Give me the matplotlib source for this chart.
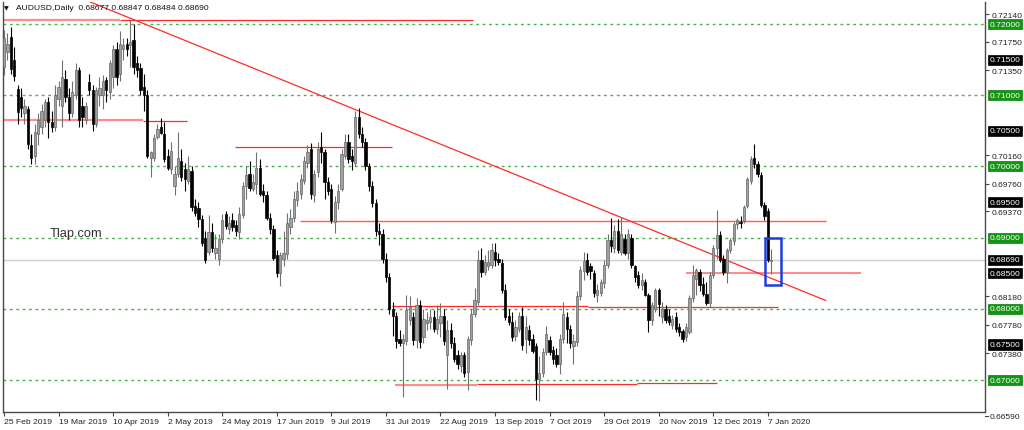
import matplotlib
matplotlib.use('Agg')
import matplotlib.pyplot as plt
import numpy as np
import pandas as pd
from matplotlib.transforms import blended_transform_factory, offset_copy
from matplotlib.patches import Rectangle

plt.rcParams['font.family'] = ['Liberation Sans', 'DejaVu Sans']

# ---------------- data (AUDUSD daily) ----------------
opens = [
    .7140,.7160,.7182,.7150,.7109,.7098,.7075,.7080,.7030,.7015,
    .7045,.7055,.7065,.7090,.7062,.7056,.7095,.7085,.7123,.7098,
    .7075,.7100,.7135,.7085,.7065,.7118,.7108,.7060,.7100,.7100,
    .7122,.7105,.7125,.7165,.7130,.7165,.7172,.7170,.7178,.7145,
    .7138,.7112,.7100,.7012,.7012,.7042,.7055,.7046,.7015,.6997,
    .6972,.6990,.7008,.6996,.6980,.6993,.6945,.6942,.6926,.6900,
    .6880,.6908,.6878,.6870,.6898,.6933,.6912,.6925,.6918,.6908,
    .6932,.6972,.6990,.6968,.6975,.6998,.6965,.6960,.6928,.6912,
    .6875,.6850,.6870,.6877,.6915,.6928,.6953,.6962,.6980,.7005,
    .7025,.6960,.6992,.7027,.7020,.6978,.6968,.6922,.6950,.6968,
    .7015,.7035,.7015,.7005,.7070,.7045,.7035,.7000,.6972,.6948,
    .6910,.6905,.6870,.6845,.6800,.6790,.6758,.6752,.6755,.6785,
    .6789,.6756,.6805,.6760,.6780,.6782,.6789,.6772,.6780,.6790,
    .6735,.6770,.6752,.6735,.6720,.6735,.6712,.6757,.6793,.6810,
    .6868,.6852,.6860,.6862,.6880,.6870,.6865,.6826,.6790,.6782,
    .6762,.6772,.6790,.6758,.6770,.6758,.6748,.6702,.6710,.6740,
    .6757,.6742,.6735,.6722,.6758,.6789,.6772,.6748,.6753,.6818,
    .6853,.6868,.6860,.6850,.6820,.6822,.6836,.6862,.6897,.6885,
    .6910,.6880,.6898,.6878,.6900,.6860,.6847,.6833,.6838,.6820,
    .6784,.6800,.6826,.6788,.6800,.6790,.6778,.6788,.6774,.6769,
    .6760,.6768,.6816,.6842,.6852,.6835,.6821,.6808,.6847,.6886,
    .6904,.6870,.6852,.6882,.6896,.6919,.6922,.6924,.6945,.6980,
    .7012,.7003,.6988,.6946,.6938,.68677]
highs = [
    .7192,.7188,.7196,.7168,.7115,.7110,.7095,.7085,.7045,.7060,
    .7075,.7088,.7095,.7098,.7078,.7115,.7120,.7150,.7135,.7110,
    .7120,.7145,.7140,.7098,.7090,.7130,.7115,.7112,.7125,.7128,
    .7125,.7150,.7170,.7175,.7190,.7180,.7180,.7206,.7200,.7155,
    .7145,.7130,.7108,.7022,.7045,.7060,.7068,.7062,.7025,.7035,
    .7000,.7048,.7025,.7005,.7015,.7000,.6955,.6950,.6932,.6910,
    .6932,.6920,.6905,.6905,.6933,.6938,.6930,.6935,.6925,.6943,
    .6978,.7000,.7008,.6990,.7020,.7010,.6975,.6965,.6935,.6918,
    .6882,.6880,.6910,.6935,.6940,.6965,.6978,.6990,.7015,.7030,
    .7033,.6995,.7035,.7048,.7025,.6985,.6975,.6958,.6975,.7025,
    .7045,.7045,.7025,.7078,.7082,.7055,.7040,.7005,.6980,.6955,
    .6920,.6912,.6878,.6850,.6810,.6795,.6770,.6765,.6820,.6818,
    .6795,.6815,.6812,.6800,.6795,.6800,.6798,.6805,.6808,.6800,
    .6785,.6780,.6760,.6742,.6740,.6740,.6762,.6800,.6830,.6882,
    .6885,.6875,.6882,.6892,.6893,.6878,.6870,.6835,.6800,.6795,
    .6785,.6795,.6802,.6790,.6778,.6765,.6752,.6734,.6745,.6776,
    .6762,.6748,.6745,.6765,.6810,.6795,.6778,.6765,.6825,.6860,
    .6880,.6878,.6865,.6855,.6835,.6842,.6868,.6905,.6928,.6918,
    .6926,.6929,.6905,.6912,.6905,.6862,.6853,.6850,.6842,.6823,
    .6810,.6830,.6830,.6810,.6805,.6800,.6792,.6795,.6780,.6772,
    .6780,.6820,.6861,.6858,.6856,.6845,.6838,.6852,.6890,.6939,
    .6910,.6876,.6886,.6900,.6922,.6927,.6930,.6946,.6985,.7015,
    .7031,.7008,.6992,.6950,.6942,.68847]
lows = [
    .7128,.7150,.7130,.7120,.7060,.7070,.7060,.7025,.7003,.7003,
    .7030,.7045,.7055,.7040,.7048,.7050,.7085,.7055,.7090,.7065,
    .7070,.7095,.7055,.7055,.7060,.7100,.7050,.7055,.7085,.7080,
    .7090,.7095,.7110,.7115,.7120,.7150,.7155,.7140,.7130,.7125,
    .7100,.7078,.7012,.6985,.7008,.7038,.7045,.7006,.6995,.6990,
    .6960,.6985,.6980,.6965,.6975,.6938,.6930,.6915,.6888,.6865,
    .6875,.6880,.6870,.6862,.6893,.6912,.6905,.6910,.6903,.6898,
    .6928,.6955,.6965,.6965,.6962,.6958,.6950,.6925,.6905,.6868,
    .6845,.6832,.6860,.6870,.6905,.6922,.6945,.6955,.6975,.6998,
    .6955,.6950,.6985,.7005,.6955,.6960,.6920,.6907,.6940,.6965,
    .7010,.7005,.6995,.7000,.7040,.7028,.6995,.6965,.6943,.6902,
    .6890,.6865,.6838,.6793,.6762,.6745,.6748,.6677,.6750,.6778,
    .6750,.6745,.6745,.6752,.6770,.6772,.6768,.6765,.6760,.6750,
    .6688,.6745,.6725,.6715,.6712,.6705,.6686,.6750,.6788,.6805,
    .6845,.6848,.6855,.6858,.6860,.6862,.6822,.6785,.6778,.6755,
    .6755,.6768,.6742,.6738,.6750,.6738,.6672,.6671,.6705,.6735,
    .6735,.6722,.6718,.6708,.6752,.6752,.6745,.6722,.6748,.6812,
    .6840,.6848,.6842,.6817,.6810,.6818,.6830,.6858,.6880,.6878,
    .6878,.6875,.6875,.6870,.6858,.6838,.6830,.6826,.6818,.6768,
    .6778,.6795,.6790,.6780,.6780,.6778,.6772,.6768,.6762,.6754,
    .6755,.6765,.6810,.6820,.6825,.6818,.6805,.6803,.6843,.6870,
    .6866,.6848,.6837,.6878,.6890,.6912,.6914,.6920,.6942,.6975,
    .6998,.6985,.6943,.6925,.6866,.68484]
closes = [
    .7180,.7172,.7137,.7127,.7076,.7082,.7085,.7032,.7012,.7048,
    .7065,.7078,.7090,.7062,.7056,.7100,.7112,.7125,.7098,.7075,
    .7105,.7135,.7065,.7070,.7085,.7108,.7060,.7108,.7110,.7120,
    .7108,.7145,.7165,.7125,.7172,.7170,.7165,.7175,.7140,.7135,
    .7108,.7100,.7015,.7020,.7040,.7052,.7047,.7010,.6998,.7022,
    .6990,.7012,.6985,.6983,.6997,.6943,.6935,.6926,.6892,.6868,
    .6908,.6885,.6886,.6898,.6925,.6917,.6920,.6915,.6910,.6933,
    .6973,.6988,.6970,.6978,.6998,.6962,.6960,.6928,.6912,.6872,
    .6850,.6875,.6878,.6920,.6928,.6955,.6966,.6982,.7008,.7020,
    .6962,.6990,.7025,.7020,.6978,.6965,.6925,.6950,.6965,.7018,
    .7035,.7010,.7008,.7070,.7045,.7035,.7000,.6972,.6948,.6910,
    .6905,.6870,.6845,.6800,.6790,.6755,.6752,.6758,.6798,.6802,
    .6756,.6805,.6754,.6786,.6785,.6789,.6772,.6786,.6790,.6755,
    .6770,.6752,.6730,.6722,.6735,.6710,.6758,.6793,.6812,.6868,
    .6852,.6866,.6866,.6882,.6868,.6866,.6826,.6788,.6782,.6760,
    .6775,.6790,.6749,.6775,.6757,.6741,.6702,.6710,.6739,.6765,
    .6740,.6730,.6722,.6758,.6793,.6772,.6752,.6755,.6818,.6855,
    .6867,.6852,.6853,.6822,.6826,.6838,.6862,.6897,.6888,.6910,
    .6882,.6905,.6879,.6905,.6861,.6845,.6833,.6840,.6820,.6784,
    .6805,.6826,.6807,.6800,.6784,.6781,.6786,.6772,.6767,.6758,
    .6775,.6816,.6847,.6854,.6833,.6821,.6808,.6847,.6886,.6904,
    .6868,.6852,.6882,.6897,.6919,.6925,.6921,.6943,.6982,.7010,
    .7003,.6990,.6946,.6931,.6868,.68690]

date_labels = ["25 Feb 2019", "19 Mar 2019", "10 Apr 2019", "2 May 2019",
               "24 May 2019", "17 Jun 2019", "9 Jul 2019", "31 Jul 2019",
               "22 Aug 2019", "13 Sep 2019", "7 Oct 2019", "29 Oct 2019",
               "20 Nov 2019", "12 Dec 2019", "7 Jan 2020"]
green_levels = [0.72, 0.71, 0.70, 0.69, 0.68, 0.67]
black_levels = [0.715, 0.705, 0.695, 0.6869, 0.685, 0.675]
scale_ticks = [0.7214, 0.7175, 0.7135, 0.7016, 0.6976, 0.6937,
               0.6818, 0.6778, 0.6738]
bottom_tick = 0.6659
current_price = 0.6869
header = "AUDUSD,Daily  0.68677 0.68847 0.68484 0.68690"

# ---------------- figure ----------------
n = min(len(opens), len(highs), len(lows), len(closes))
o = np.array(opens[:n]); h = np.array(highs[:n])
l = np.array(lows[:n]); c = np.array(closes[:n])
dates = pd.bdate_range('2019-02-25', '2020-01-08')
dates = dates[~dates.isin(pd.to_datetime(['2019-12-25', '2020-01-01']))][:n]
x = np.arange(n)

W, H = 1024, 431
fig = plt.figure(figsize=(W / 100, H / 100), dpi=100)
ax = fig.add_axes([3 / W, 18 / H, 982 / W, 410 / H])
ax.set_xlim(-0.3, 287.7)
ax.set_ylim(0.665525, 0.723089)

# grid-like level lines
for lv in green_levels:
    ax.axhline(lv, color='#49b349', lw=1.0, ls=(0, (2, 2.6)), zorder=1)
ax.axhline(current_price, color='#cfcfcf', lw=1.0, zorder=1)

# analyst lines
red = '#ff2a2a'
pink = '#ff8c8c'
segments = [  # (x0, x1, price, colour, width)
    (-0.3, 34.0, 0.7206, pink, 1.6), (34.0, 137.5, 0.7206, red, 0.9),
    (-0.3, 40.8, 0.70657, pink, 1.6), (40.8, 53.7, 0.70642, red, 0.9),
    (67.7, 113.8, 0.70277, red, 0.9),
    (86.8, 241.0, 0.6924, '#ff5a5a', 1.0),
    (200.0, 251.3, 0.6850, '#ff6a6a', 1.1),
    (113.8, 171.2, 0.68045, red, 0.9), (171.2, 227.0, 0.68025, red, 0.9),
    (114.7, 138.7, 0.66937, pink, 1.6), (138.7, 185.6, 0.66947, red, 0.9),
    (185.6, 209.1, 0.66961, red, 0.9),
]
for x0, x1, p, col, lw in segments:
    ax.plot([x0, x1], [p, p], color=col, lw=lw, zorder=2, solid_capstyle='butt')
ax.plot([23.7, 241.0], [0.72340, 0.68118], color='#ff2a2a', lw=0.9, zorder=2)

# candles
up = c >= o
wick_col = np.where(up, '#707070', '#000000')
ax.vlines(x, l, h, colors=wick_col, lw=0.8, zorder=3)
body_b = np.minimum(o, c)
body_h = np.maximum(np.abs(c - o), 0.00004)
ax.bar(x[up], body_h[up], bottom=body_b[up], width=0.66,
       color='#a0a0a0', edgecolor='#666666', lw=0.5, zorder=4)
ax.bar(x[~up], body_h[~up], bottom=body_b[~up], width=0.66,
       color='#000000', edgecolor='#000000', lw=0.5, zorder=4)

# blue box around last two candles
ax.add_patch(Rectangle((223.2, 0.6834), 4.7, 0.0066, fill=False,
                       edgecolor='#1f3fdc', lw=1.8, zorder=5))

# spines
for s in ['left', 'bottom', 'right']:
    ax.spines[s].set_color('#4a4a4a')
    ax.spines[s].set_linewidth(1.0)
ax.spines['top'].set_visible(False)

# x ticks
pos = [dates.get_loc(pd.to_datetime(d)) for d in date_labels]
ax.set_xticks(pos)
ax.set_xticklabels(date_labels, fontsize=6.1, color='#222222', ha='left')
ax.tick_params(axis='x', length=3, width=0.8, color='#444444', pad=1.5)
for t in ax.get_xticklabels():
    t.set_x(t.get_position()[0])
# right scale
ax.yaxis.tick_right()
ax.set_yticks(scale_ticks)
ax.set_yticklabels([f"{v:.5f}" for v in scale_ticks], fontsize=6.1, color='#222222')
ax.tick_params(axis='y', length=3, width=0.8, color='#444444', pad=1.5)

tr = blended_transform_factory(ax.transAxes, ax.transData)
for lv in green_levels:
    ax.text(1.0045, lv, f"{lv:.5f}", transform=tr, fontsize=6.1, color='white',
            va='center', ha='left',
            bbox=dict(facecolor='#129512', edgecolor='#0c7a0c', pad=1.1, lw=0.5))
for lv in black_levels:
    ax.text(1.0045, lv, f"{lv:.5f}", transform=tr, fontsize=6.1, color='white',
            va='center', ha='left',
            bbox=dict(facecolor='#000000', edgecolor='#000000', pad=1.1, lw=0.5))
btr = offset_copy(tr, fig=fig, x=0, y=-7, units='dots')
ax.text(1.0045, bottom_tick, f"{bottom_tick:.5f}", transform=btr, fontsize=6.1,
        color='#222222', va='center', ha='left')
ax.plot([1.0, 1.003], [bottom_tick, bottom_tick], transform=btr, color='#444444',
        lw=0.8, clip_on=False)

# header & watermark
fig.text(4 / W, 1 - 9 / H, '\u25BC', fontsize=4.5, color='#111111', va='center',
         family=['DejaVu Sans'])
fig.text(16 / W, 1 - 9 / H, header, fontsize=6.1, color='#111111', va='center')
fig.text(50 / W, 1 - 234 / H, 'Tlap.com', fontsize=9.3, color='#333333', va='center')

fig.savefig('out.png', dpi=100, facecolor='white')
